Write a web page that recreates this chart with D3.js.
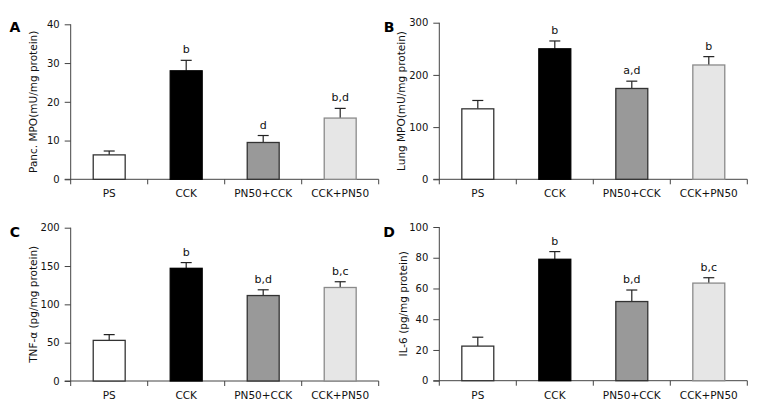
<!DOCTYPE html>
<html><head><meta charset="utf-8">
<script src="https://cdn.jsdelivr.net/npm/d3@7"></script>
<style>body{margin:0;background:#fff}svg{display:block}text{font-family:"DejaVu Sans",Verdana,sans-serif}</style>
</head><body><svg id="c" width="776" height="415"></svg>
<script>
const categories = ["PS", "CCK", "PN50+CCK", "CCK+PN50"];
const barFills = ["#ffffff", "#000000", "#999999", "#e6e6e6"];
const barStrokes = ["#333333", "#000000", "#333333", "#8a8a8a"];

const panMPO = [6.3, 28.0, 9.5, 15.8];
const panMPOErr = [1.0, 2.7, 1.8, 2.5];
const panMPOSig = ["", "b", "d", "b,d"];
const panMPOTicks = [0, 10, 20, 30, 40];

const lungMPO = [135, 250, 174, 219];
const lungMPOErr = [16, 15, 14, 16];
const lungMPOSig = ["", "b", "a,d", "b"];
const lungMPOTicks = [0, 100, 200, 300];

const tnf = [53, 147, 111.5, 122];
const tnfErr = [7.5, 7.5, 7.5, 7.5];
const tnfSig = ["", "b", "b,d", "b,c"];
const tnfTicks = [0, 50, 100, 150, 200];

const il6 = [22.5, 79, 51.5, 63.5];
const il6Err = [5.8, 5.0, 7.5, 3.5];
const il6Sig = ["", "b", "b,d", "b,c"];
const il6Ticks = [0, 20, 40, 60, 80, 100];

const panels = [
  {letter:"A", label:"Panc. MPO(mU/mg protein)", vals:panMPO, err:panMPOErr, sig:panMPOSig, ticks:panMPOTicks,
   ax:70.7, y0:179.3, yTop:24.3, lx:15, ly:27, labX:33},
  {letter:"B", label:"Lung MPO(mU/mg protein)", vals:lungMPO, err:lungMPOErr, sig:lungMPOSig, ticks:lungMPOTicks,
   ax:439.3, y0:179.3, yTop:22.7, lx:389, ly:27, labX:401},
  {letter:"C", label:"TNF-\u03b1 (pg/mg protein)", vals:tnf, err:tnfErr, sig:tnfSig, ticks:tnfTicks,
   ax:70.7, y0:381, yTop:227.7, lx:15, ly:232, labX:33},
  {letter:"D", label:"IL-6 (pg/mg protein)", vals:il6, err:il6Err, sig:il6Sig, ticks:il6Ticks,
   ax:439.3, y0:380.7, yTop:227, lx:389, ly:232, labX:403}
];

const svg = d3.select("#c");
const axisColor = "#444";

panels.forEach(p => {
  const g = svg.append("g");
  const x = d3.scaleBand().domain(categories).range([p.ax, p.ax + 308]).padding(0);
  const y = d3.scaleLinear().domain([0, d3.max(p.ticks)]).range([p.y0, p.yTop]);
  const bw = x.bandwidth() * 0.415;

  // y axis
  const ya = g.append("g").attr("transform", `translate(${p.ax},0)`)
    .call(d3.axisLeft(y).tickValues(p.ticks).tickSize(6).tickPadding(5).tickFormat(d3.format("d")));
  ya.select(".domain").attr("d", `M0,${y(d3.max(p.ticks))}V${p.y0 + 5}`);
  ya.selectAll("line").attr("stroke", axisColor);
  ya.select(".domain").attr("stroke", axisColor);
  ya.selectAll("text").attr("font-size", 10).attr("fill", "#111")
    .attr("font-family", '"DejaVu Sans",Verdana,sans-serif');

  // x axis
  const xa = g.append("g").attr("transform", `translate(0,${p.y0})`);
  xa.append("path").attr("d", `M${p.ax - 6},0H${p.ax + 308}`).attr("stroke", axisColor).attr("fill", "none");
  categories.forEach((c, i) => {
    const bx = x(c) + x.bandwidth();
    xa.append("line").attr("x1", bx).attr("x2", bx).attr("y1", 0).attr("y2", 5).attr("stroke", axisColor);
    xa.append("text").attr("x", x(c) + x.bandwidth() / 2).attr("y", 18)
      .attr("text-anchor", "middle").attr("font-size", 10.5).attr("fill", "#111").text(c);
  });

  // bars
  categories.forEach((c, i) => {
    const cx = x(c) + x.bandwidth() / 2;
    const top = y(p.vals[i]);
    const etop = y(p.vals[i] + p.err[i]);
    g.append("line").attr("x1", cx).attr("x2", cx).attr("y1", top).attr("y2", etop).attr("stroke", "#222").attr("stroke-width", 1.2);
    g.append("line").attr("x1", cx - 5.5).attr("x2", cx + 5.5).attr("y1", etop).attr("y2", etop).attr("stroke", "#222").attr("stroke-width", 1.2);
    g.append("rect").attr("x", cx - bw / 2).attr("y", top).attr("width", bw).attr("height", p.y0 - top)
      .attr("fill", barFills[i]).attr("stroke", barStrokes[i]).attr("stroke-width", 1.3);
    if (p.sig[i]) {
      g.append("text").attr("x", cx).attr("y", etop - 7).attr("text-anchor", "middle")
        .attr("font-size", 11).attr("fill", "#111").text(p.sig[i]);
    }
  });

  // y label
  const midY = (p.y0 + y(d3.max(p.ticks))) / 2;
  g.append("text").attr("transform", `translate(${p.labX},${midY}) rotate(-90)`)
    .attr("text-anchor", "middle").attr("dominant-baseline", "central")
    .attr("font-size", 10.5).attr("fill", "#111").text(p.label);

  // panel letter
  g.append("text").attr("x", p.lx).attr("y", p.ly).attr("text-anchor", "middle").attr("dominant-baseline", "central")
    .attr("font-size", 14).attr("font-weight", "bold").attr("fill", "#000").text(p.letter);
});
</script></body></html>
